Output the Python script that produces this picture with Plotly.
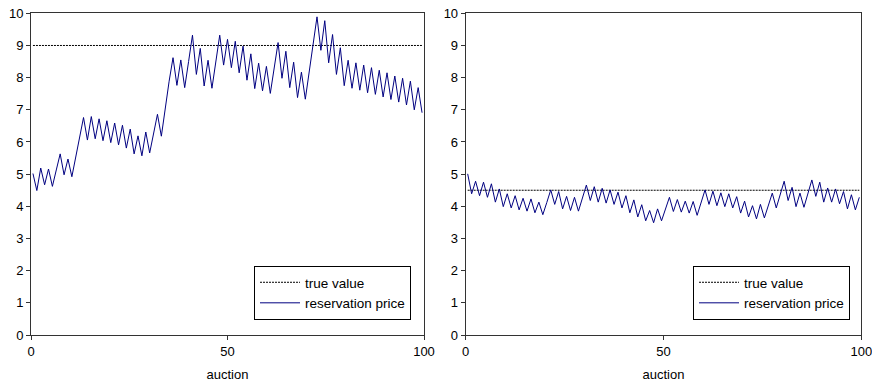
import plotly.graph_objects as go

# ---- data ----
auction_left = list(range(0, 101))
reservation_left = [
    5.02, 4.49, 5.19, 4.67, 5.16, 4.62, 5.13, 5.63, 4.98, 5.47,
    4.92, 5.53, 6.15, 6.76, 6.06, 6.79, 6.10, 6.72, 6.04, 6.66,
    5.98, 6.59, 5.91, 6.52, 5.81, 6.40, 5.63, 6.19, 5.57, 6.31,
    5.66, 6.24, 6.86, 6.18, 7.09, 7.89, 8.62, 7.76, 8.55, 7.69,
    8.50, 9.32, 8.10, 8.91, 7.74, 8.54, 7.67, 8.50, 9.32, 8.39,
    9.19, 8.31, 9.13, 8.15, 8.98, 7.92, 8.74, 7.66, 8.45, 7.59,
    8.35, 7.51, 8.30, 9.09, 7.98, 8.82, 7.69, 8.48, 7.38, 8.17,
    7.33, 8.18, 9.03, 9.89, 8.85, 9.77, 8.46, 9.34, 8.10, 8.93,
    7.75, 8.54, 7.67, 8.46, 7.61, 8.39, 7.53, 8.31, 7.48, 8.23,
    7.40, 8.15, 7.32, 8.05, 7.24, 7.98, 7.15, 7.89, 7.00, 7.69,
    6.91,
]
true_value_left = [9.0] * len(auction_left)

auction_right = list(range(1, 101))
reservation_right = [
    5.01, 4.39, 4.78, 4.33, 4.75, 4.28, 4.70, 4.13, 4.54, 3.99,
    4.39, 3.95, 4.33, 3.89, 4.25, 3.85, 4.23, 3.80, 4.13, 3.74,
    4.12, 4.51, 4.06, 4.46, 3.92, 4.31, 3.87, 4.28, 3.85, 4.26,
    4.66, 4.18, 4.61, 4.13, 4.56, 4.10, 4.51, 4.06, 4.44, 3.95,
    4.33, 3.80, 4.20, 3.67, 4.05, 3.55, 3.87, 3.49, 3.92, 3.55,
    3.91, 4.28, 3.84, 4.21, 3.82, 4.16, 3.79, 4.15, 3.72, 4.12,
    4.51, 4.06, 4.47, 4.02, 4.42, 3.99, 4.39, 3.95, 4.30, 3.79,
    4.16, 3.67, 4.02, 3.61, 4.06, 3.64, 4.02, 4.41, 3.95, 4.37,
    4.78, 4.18, 4.59, 3.99, 4.41, 3.97, 4.40, 4.82, 4.31, 4.75,
    4.13, 4.57, 4.13, 4.54, 4.08, 4.46, 3.92, 4.36, 3.89, 4.28,
]
true_value_right = [4.5] * len(auction_right)

x_tick_text = ["0", "50", "100"]
y_ticks = list(range(0, 11))

# ---- style ----
FONT = "Arial, Liberation Sans, Helvetica, sans-serif"
LINE_BLUE = "#000080"
AXIS_COL = "#333333"

fig = go.Figure()

fig.add_trace(go.Scatter(
    x=auction_left, y=true_value_left, mode="lines", name="true value",
    line=dict(color="black", width=1, dash="2px,1px"),
    xaxis="x", yaxis="y", legend="legend"))
fig.add_trace(go.Scatter(
    x=auction_left, y=reservation_left, mode="lines", name="reservation price",
    line=dict(color=LINE_BLUE, width=1),
    xaxis="x", yaxis="y", legend="legend"))
fig.add_trace(go.Scatter(
    x=auction_right, y=true_value_right, mode="lines", name="true value",
    line=dict(color="black", width=1, dash="2px,1px"),
    xaxis="x2", yaxis="y2", legend="legend2"))
fig.add_trace(go.Scatter(
    x=auction_right, y=reservation_right, mode="lines", name="reservation price",
    line=dict(color=LINE_BLUE, width=1),
    xaxis="x2", yaxis="y2", legend="legend2"))

W, H = 872, 387
yd = [52 / H, (H - 13.3) / H]

common_x = dict(
    showgrid=False, zeroline=False, showline=True, mirror=True,
    linecolor=AXIS_COL, linewidth=1, ticks="outside", ticklen=4,
    tickcolor=AXIS_COL, tickfont=dict(family=FONT, size=13, color="black"),
    ticklabeloverflow="allow",
    title=dict(text="auction", font=dict(family=FONT, size=13, color="black"), standoff=12),
    fixedrange=True, automargin=False,
)
common_y = dict(
    range=[0, 10], tickvals=y_ticks, showgrid=False, zeroline=False,
    showline=True, mirror=True, linecolor=AXIS_COL, linewidth=1,
    ticks="outside", ticklen=4, tickcolor=AXIS_COL,
    tickfont=dict(family=FONT, size=13, color="black"), fixedrange=True,
    automargin=False,
)

legend_common = dict(
    xanchor="left", yanchor="top", bgcolor="white", bordercolor="black",
    borderwidth=1, font=dict(family=FONT, size=13.5, color="black"),
    itemwidth=40,
)

fig.update_layout(
    template="none",
    width=W, height=H,
    margin=dict(l=0, r=0, t=0, b=0),
    paper_bgcolor="white", plot_bgcolor="white",
    font=dict(family=FONT, size=13, color="black"),
    xaxis=dict(domain=[31 / W, 424 / W], range=[-0.5, 100.5],
               tickvals=[-0.5, 50, 100.5], ticktext=x_tick_text, anchor="y", **common_x),
    yaxis=dict(domain=yd, anchor="x", **common_y),
    xaxis2=dict(domain=[465.7 / W, 861.3 / W], range=[0.5, 100.5],
                tickvals=[0.5, 50.5, 100.5], ticktext=x_tick_text, anchor="y2", **common_x),
    yaxis2=dict(domain=yd, anchor="x2", **common_y),
    legend=dict(x=254 / W, y=(H - 266) / H, **legend_common),
    legend2=dict(x=693 / W, y=(H - 266) / H, **legend_common),
    showlegend=True,
)

fig.write_html(
    "out.html",
    config={"displayModeBar": False},
    post_script="document.body.style.margin='0px';document.body.style.overflow='hidden';",
)
